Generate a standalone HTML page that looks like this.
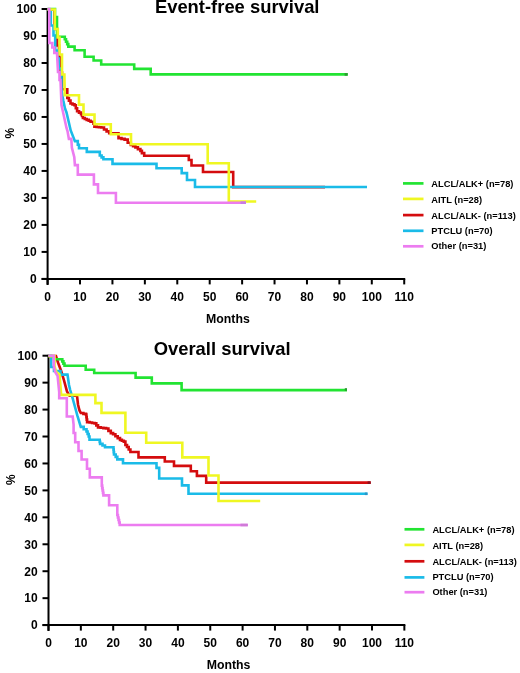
<!DOCTYPE html>
<html><head><meta charset="utf-8"><style>
html,body{margin:0;padding:0;background:#fff;}
svg{display:block;will-change:transform;}
</style></head><body>
<svg width="520" height="673" viewBox="0 0 520 673">
<rect width="520" height="673" fill="#fff"/>
<g stroke="#000" stroke-width="2" fill="none"><path d="M47.6,8.0 V284.9" /><path d="M41.6,278.9 H405.22" /><path d="M41.6,278.90 H47.6" /><path d="M41.6,251.91 H47.6" /><path d="M41.6,224.92 H47.6" /><path d="M41.6,197.93 H47.6" /><path d="M41.6,170.94 H47.6" /><path d="M41.6,143.95 H47.6" /><path d="M41.6,116.96 H47.6" /><path d="M41.6,89.97 H47.6" /><path d="M41.6,62.98 H47.6" /><path d="M41.6,35.99 H47.6" /><path d="M41.6,9.00 H47.6" /><path d="M47.60,278.9 V284.4" /><path d="M80.02,278.9 V284.4" /><path d="M112.44,278.9 V284.4" /><path d="M144.86,278.9 V284.4" /><path d="M177.28,278.9 V284.4" /><path d="M209.70,278.9 V284.4" /><path d="M242.12,278.9 V284.4" /><path d="M274.54,278.9 V284.4" /><path d="M306.96,278.9 V284.4" /><path d="M339.38,278.9 V284.4" /><path d="M371.80,278.9 V284.4" /><path d="M404.22,278.9 V284.4" /></g><g stroke="#000" stroke-width="2" fill="none"><path d="M48.5,354.7 V631.1" /><path d="M42.5,625.1 H405.34999999999997" /><path d="M42.5,625.10 H48.5" /><path d="M42.5,598.16 H48.5" /><path d="M42.5,571.22 H48.5" /><path d="M42.5,544.28 H48.5" /><path d="M42.5,517.34 H48.5" /><path d="M42.5,490.40 H48.5" /><path d="M42.5,463.46 H48.5" /><path d="M42.5,436.52 H48.5" /><path d="M42.5,409.58 H48.5" /><path d="M42.5,382.64 H48.5" /><path d="M42.5,355.70 H48.5" /><path d="M48.50,625.1 V630.6" /><path d="M80.85,625.1 V630.6" /><path d="M113.20,625.1 V630.6" /><path d="M145.55,625.1 V630.6" /><path d="M177.90,625.1 V630.6" /><path d="M210.25,625.1 V630.6" /><path d="M242.60,625.1 V630.6" /><path d="M274.95,625.1 V630.6" /><path d="M307.30,625.1 V630.6" /><path d="M339.65,625.1 V630.6" /><path d="M372.00,625.1 V630.6" /><path d="M404.35,625.1 V630.6" /></g><g fill="none" stroke-width="2.6" stroke-linejoin="miter" stroke-linecap="butt"><path d="M47.5,9 H54.5 V28.5 H57.3 V45 H59 V57 H60.5 V72 H62 V88.8 H67.3 V97.5 H68.9V100.2 H70.5V103.0 H72.5V103.9 H74.5V104.8 H75.8V107.8 H77.1V110.8 H79.0V112.2 H81.0V113.7 H82.0V115.6 H82.9V117.5 H84.8V118.5 H86.7V119.4 H88.7V120.3 H90.6V121.3 H93.5V123.3 H94.4V126.2 H96.7V126.5 H98.9V126.8 H101.2V127.1 H104.0V129.0 H106.6V130.9 H109.2V132.8 H118.5 V137.7 H121.5V138.4 H124.6V139.2 H127.7V142.3 H130.8V144.6 H133.1V145.8 H135.4V146.9 H137.9V148.7 H140.4V150.4 H141.9V152.7 H144.2V155.3 H188.8 V159.6 H191.5 V165 H203 V171.5 H233.2 V186.7 H325" stroke="#d40c0e" transform="translate(0,0.45)"/><path d="M47.5,9 H50.8 V25 H53.5 V35 H55.2 V50 H57.5 V58 H58.8 V68 H61.5 V90 L63.3,100 L65,108 L66.5,112 L70.7,130 L74.9,140.7 H77.8V144.3 H79.0V147.8 H86.8 V151.4 H99.8 V155 H101.6V156.9 H103.4V158.8 H112.5 V163.4 H156.5 V167.8 H181.7 V172.7 H187 V179.5 H195 V186.5 H367" stroke="#1abbe8" transform="translate(0,0.45)"/><path d="M47.5,9 H55 V17 H57 V36.7 H63.7 H64.8V39.2 H66.0V41.7 H67.2V44.1 H68.3V46.6 H74.6 V50.2 H84.6 V56.8 H93.6 V60.5 H101.2 V64.5 H134.2 V68.9 H150.7 V74.4 H347.7" stroke="#22e432"/><path d="M47.5,9 H54.8 V28.5 H57.8 V37 H59.5 V54 H62 V74 H64.4 L64.8,94.8 H79 V104.2 H83.5 V114.2 H94.5 V123.8 H110.8 V133.8 H131 V143.8 H207.7 V162.8 H228.8 V201.1 H256.2" stroke="#eff722" transform="translate(0,0.45)"/><path d="M47.5,9 H49.3 V43 H52.3 V47.5 H54.3 V53 H57 L58,72 H59.5 V80 H60.5 L61.5,105 L63,112 L66.5,128 L67.5,131 L68.9,138.9 H71.3 L71.9,147.8 L74.3,157.3 L74.9,165.1 H77.8 V174.6 H93.9 V184.4 H98 V193 H115.9 V202.7 H246" stroke="#ec7cf0"/><path d="M48.5,355.7 H56 L58,362 L61,370 L64,380 L67,391 L69.5,395.2 H77 L78,404 L79.5,410 L80.8,412.5 H83.4V413.4 H86.0V414.2 H86.4V416.7 H86.7V419.2 H87.1V421.7 H89.6V422.1 H92.1V422.5 H94.6V422.9 H96.3V424.9 H98.0V426.9 H100.7V427.3 H103.4V427.7 H106.1V428.1 H108.4V430.4 H110.8V432.7 H113.1V433.8 H115.4V435.8 H117.7V437.7 H120.0V439.4 H121.9V440.3 H123.8V441.2 H125.4V444.6 H127.0V446.6 H128.7V449.1 H130.4V451.5 H138.5 V456.9 H164.8 V461 H174 V465.4 H190.8 V470.8 H196.9 V475.4 H206.2 V482.2 H370.7" stroke="#d40c0e" transform="translate(0,0.45)"/><path d="M48.5,355.7 H51.2 V367 H54 V371 H60.5 V374.6 H67.5 L69,385 L70.2,390 L72,396 L77.3,415.4 L80.8,426.9 H83.7V429.2 H86.5V431.5 H87.6V434.0 H88.7V436.5 H89.5V439.8 H99.3 H99.7V441.9 H100.1V443.9 H102.5V445.5 H105.0V447.2 H113.2 H113.5V449.6 H113.7V452.1 H114.0V454.5 H115.7V456.9 H117.3V459.4 H123 V463.3 H156.5 V467.9 H159.2 V478.5 H182 V485.4 H188.5 V493.8 H367.5" stroke="#1abbe8"/><path d="M48.5,355.7 H54 V358.6 H61.2 H62.3V360.8 H63.4V363.0 H64.5V365.2 H85.7 V369.2 H94.2 V372.4 H135.6 V377 H151.8 V382.8 H181.6 V389.5 H347" stroke="#22e432" transform="translate(0,0.6)"/><path d="M48.5,355.7 H54.5 V366 L56.5,372 L59.5,374 L61,392 V394.4 H95.4 V402.7 H101.5 V412.4 H125.4 V432.3 H146.2 V442.3 H182.3 V456.9 H208.5 V475.1 H218.5 V500.6 H260.2" stroke="#eff722" transform="translate(0,0.45)"/><path d="M48.5,355.7 H53.8 V366 L55.2,372 L57.6,376 L59.2,392 V398.3 H66.8 V416.5 H72.7 L73.6,424.6 V433 H75.2 V442.2 H78.5 V451 H81.6 V459.5 H87 V468.8 H89.8 V477.4 H101.8 V485.6 H102.2V488.1 H102.6V490.5 H103.0V492.9 H103.4V495.4 H109.1 V505.2 H117.3 V515 H117.9V517.5 H118.5V520.0 H119.1V522.5 H119.7V525.0 H247.8" stroke="#ec7cf0"/><path d="M344.6,74.4 H347.7" stroke="#2a9a30"/><path d="M240.5,202.7 H246" stroke="#c77ae6"/><path d="M344.8,389.5 H347" stroke="#2a9a30"/><path d="M367.6,482.65 H370.7" stroke="#8a1020"/><path d="M364.8,493.8 H367.5" stroke="#2a95c8"/><path d="M240.5,525 H247.8" stroke="#d07ad8"/></g><g font-family="Liberation Sans, sans-serif" font-weight="bold" font-size="12" fill="#000"><text x="36.6" y="283.20" text-anchor="end">0</text><text x="36.6" y="256.21" text-anchor="end">10</text><text x="36.6" y="229.22" text-anchor="end">20</text><text x="36.6" y="202.23" text-anchor="end">30</text><text x="36.6" y="175.24" text-anchor="end">40</text><text x="36.6" y="148.25" text-anchor="end">50</text><text x="36.6" y="121.26" text-anchor="end">60</text><text x="36.6" y="94.27" text-anchor="end">70</text><text x="36.6" y="67.28" text-anchor="end">80</text><text x="36.6" y="40.29" text-anchor="end">90</text><text x="36.6" y="13.30" text-anchor="end">100</text><text x="47.60" y="301.4" text-anchor="middle">0</text><text x="80.02" y="301.4" text-anchor="middle">10</text><text x="112.44" y="301.4" text-anchor="middle">20</text><text x="144.86" y="301.4" text-anchor="middle">30</text><text x="177.28" y="301.4" text-anchor="middle">40</text><text x="209.70" y="301.4" text-anchor="middle">50</text><text x="242.12" y="301.4" text-anchor="middle">60</text><text x="274.54" y="301.4" text-anchor="middle">70</text><text x="306.96" y="301.4" text-anchor="middle">80</text><text x="339.38" y="301.4" text-anchor="middle">90</text><text x="371.80" y="301.4" text-anchor="middle">100</text><text x="404.22" y="301.4" text-anchor="middle">110</text><text x="37.6" y="629.40" text-anchor="end">0</text><text x="37.6" y="602.46" text-anchor="end">10</text><text x="37.6" y="575.52" text-anchor="end">20</text><text x="37.6" y="548.58" text-anchor="end">30</text><text x="37.6" y="521.64" text-anchor="end">40</text><text x="37.6" y="494.70" text-anchor="end">50</text><text x="37.6" y="467.76" text-anchor="end">60</text><text x="37.6" y="440.82" text-anchor="end">70</text><text x="37.6" y="413.88" text-anchor="end">80</text><text x="37.6" y="386.94" text-anchor="end">90</text><text x="37.6" y="360.00" text-anchor="end">100</text><text x="48.50" y="647.4" text-anchor="middle">0</text><text x="80.85" y="647.4" text-anchor="middle">10</text><text x="113.20" y="647.4" text-anchor="middle">20</text><text x="145.55" y="647.4" text-anchor="middle">30</text><text x="177.90" y="647.4" text-anchor="middle">40</text><text x="210.25" y="647.4" text-anchor="middle">50</text><text x="242.60" y="647.4" text-anchor="middle">60</text><text x="274.95" y="647.4" text-anchor="middle">70</text><text x="307.30" y="647.4" text-anchor="middle">80</text><text x="339.65" y="647.4" text-anchor="middle">90</text><text x="372.00" y="647.4" text-anchor="middle">100</text><text x="404.35" y="647.4" text-anchor="middle">110</text><text x="154.9" y="13.4" font-size="18.4">Event-free survival</text><text x="153.7" y="354.9" font-size="18.4">Overall survival</text><text x="206.1" y="322.6" font-size="12.3">Months</text><text x="206.7" y="668.8" font-size="12.3">Months</text><text transform="translate(13.8,133.2) rotate(-90)" text-anchor="middle">%</text><text transform="translate(14.9,479.6) rotate(-90)" text-anchor="middle">%</text><path d="M403,183.4 H423.5" stroke="#22e432" stroke-width="2.7"/><text x="431.3" y="187.3" font-size="9.3">ALCL/ALK+ (n=78)</text><path d="M403,198.9 H423.5" stroke="#eff722" stroke-width="2.7"/><text x="431.3" y="202.9" font-size="9.3">AITL (n=28)</text><path d="M403,215.1 H423.5" stroke="#d40c0e" stroke-width="2.7"/><text x="431.3" y="218.7" font-size="9.3">ALCL/ALK- (n=113)</text><path d="M403,230.8 H423.5" stroke="#1abbe8" stroke-width="2.7"/><text x="431.3" y="234.4" font-size="9.3">PTCLU (n=70)</text><path d="M403,246.3 H423.5" stroke="#ec7cf0" stroke-width="2.7"/><text x="431.3" y="249.2" font-size="9.3">Other (n=31)</text><path d="M404.5,529.3 H424.4" stroke="#22e432" stroke-width="2.7"/><text x="432.4" y="532.9" font-size="9.3">ALCL/ALK+ (n=78)</text><path d="M404.5,544.9 H424.4" stroke="#eff722" stroke-width="2.7"/><text x="432.4" y="548.5" font-size="9.3">AITL (n=28)</text><path d="M404.5,561.3 H424.4" stroke="#d40c0e" stroke-width="2.7"/><text x="432.4" y="565.1" font-size="9.3">ALCL/ALK- (n=113)</text><path d="M404.5,577.4 H424.4" stroke="#1abbe8" stroke-width="2.7"/><text x="432.4" y="579.6" font-size="9.3">PTCLU (n=70)</text><path d="M404.5,592.2 H424.4" stroke="#ec7cf0" stroke-width="2.7"/><text x="432.4" y="595.0" font-size="9.3">Other (n=31)</text></g>
</svg>
</body></html>
